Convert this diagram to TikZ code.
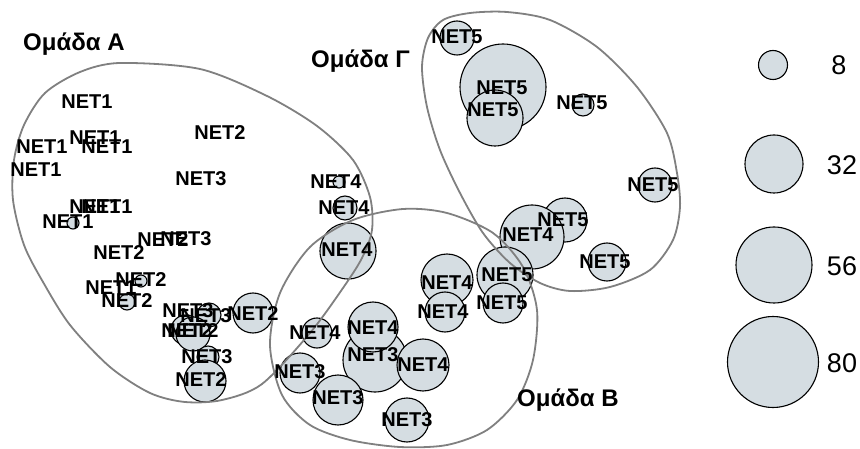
\documentclass[tikz,border=0pt]{standalone}
\usepackage{fontspec}
\setmainfont{Liberation Sans}
\definecolor{bubfill}{RGB}{213,221,226}
\definecolor{groupline}{RGB}{128,128,128}
\begin{document}
\begin{tikzpicture}[x=1pt,y=-1pt,
  bub/.style={circle, draw=black, line width=1.1pt, fill=bubfill, inner sep=0pt, minimum size={2*#1pt}},
  netlbl/.style={font=\fontsize{20}{20}\selectfont\bfseries, inner sep=0pt},
  grplbl/.style={font=\fontsize{24}{24}\selectfont\bfseries, inner sep=0pt, anchor=base west},
  leglbl/.style={font=\fontsize{27}{27}\selectfont, inner sep=0pt},
  group/.style={draw=groupline, line width=1.8pt}]
\fill[white] (0,0) rectangle (860,449);
\useasboundingbox (0,0) rectangle (860,449);

% ---- bubbles, group A ----
\node[bub=6]  (ba1)  at (73,223) {};
\node[bub=6]  (ba2)  at (141,281) {};
\node[bub=8]  (ba3)  at (127,302) {};
\node[bub=12] (ba4)  at (209,315) {};
\node[bub=15] (ba5)  at (186,330) {};
\node[bub=17] (ba6)  at (193,334) {};
\node[bub=20] (ba7)  at (253,313) {};
\node[bub=11] (ba8)  at (208,357) {};
\node[bub=21] (ba9)  at (205,381) {};
\node[bub=6]  (ba10) at (339,182) {};
\node[bub=12] (ba11) at (345,208) {};
\node[bub=28] (ba12) at (348,251) {};
% ---- bubbles, group B ----
\node[bub=26] (bb1)  at (447,280) {};
\node[bub=20] (bb2)  at (445,312) {};
\node[bub=32] (bb5)  at (375,360) {};
\node[bub=25] (bb6)  at (373,327) {};
\node[bub=26] (bb7)  at (423,365) {};
\node[bub=15] (bb8)  at (317,333) {};
\node[bub=20] (bb9)  at (300,373) {};
\node[bub=25] (bb10) at (338,400) {};
\node[bub=22] (bb11) at (407,420) {};
% ---- bubbles, group C ----
\node[bub=17] (bc1) at (457,38) {};
\node[bub=43] (bc2) at (503,87) {};
\node[bub=28] (bc3) at (495,118) {};
\node[bub=11] (bc4) at (583,105) {};
\node[bub=17] (bc5) at (655,185) {};
\node[bub=22] (bc6) at (565,220) {};
\node[bub=32] (bc7) at (532,237) {};
\node[bub=19] (bc8) at (607,262) {};
\node[bub=28] (bb3) at (505,275) {};
\node[bub=20] (bb4) at (503,303) {};

% ---- group outlines ----
\draw[group] plot[smooth cycle] coordinates {
  (120,63) (200,69) (267,96) (317,126) (353,160) (370,197) (372,230) (362,258)
  (343,288) (310,333) (262,384) (222,400) (185,402) (150,393) (110,367) (70,325)
  (43,282) (24,245) (13,200) (14,160) (24,125) (45,93) (80,72)};
\draw[group] plot[smooth cycle] coordinates {
  (270,345) (280,293) (310,247) (353,220) (403,209) (447,213) (493,233) (523,267)
  (537,310) (533,360) (517,400) (487,430) (447,445) (400,447) (350,440) (310,425)
  (282,395)};
\draw[group] plot[smooth cycle] coordinates {
  (443,20) (470,13) (507,12) (550,20) (597,47) (637,87) (667,133) (677,173)
  (680,207) (673,240) (650,270) (610,287) (570,291) (540,283) (510,263) (483,233)
  (460,193) (440,150) (427,107) (422,67) (428,38)};

% ---- labels, group A ----
\node[netlbl] (la1)  at (87,102) {NET1};
\node[netlbl] (la2)  at (42,147) {NET1};
\node[netlbl] (la3)  at (95,138) {NET1};
\node[netlbl] (la4)  at (107,147) {NET1};
\node[netlbl] (la5)  at (36,170) {NET1};
\node[netlbl] (la6)  at (220,133) {NET2};
\node[netlbl] (la7)  at (201,179) {NET3};
\node[netlbl] (la8)  at (95,207) {NET1};
\node[netlbl] (la9)  at (107,207) {NET1};
\node[netlbl] (la10) at (68,222) {NET1};
\node[netlbl] (la11) at (119,253) {NET2};
\node[netlbl] (la12) at (163,240) {NET2};
\node[netlbl] (la13) at (186,239) {NET3};
\node[netlbl] (la14) at (111,288) {NET1};
\node[netlbl] (la15) at (141,280) {NET2};
\node[netlbl] (la16) at (127,301) {NET2};
\node[netlbl] (la17) at (188,311) {NET3};
\node[netlbl] (la18) at (206,316) {NET3};
\node[netlbl] (la19) at (187,331) {NET2};
\node[netlbl] (la20) at (193,331) {NET2};
\node[netlbl] (la21) at (253,314) {NET2};
\node[netlbl] (la22) at (207,357) {NET3};
\node[netlbl] (la23) at (201,380) {NET2};
\node[netlbl] (la24) at (336,182) {NET4};
\node[netlbl] (la25) at (344,208) {NET4};
\node[netlbl] (la26) at (347,250) {NET4};
% ---- labels, group B ----
\node[netlbl] (lb1)  at (447,283) {NET4};
\node[netlbl] (lb2)  at (443,312) {NET4};
\node[netlbl] (lb3)  at (507,275) {NET5};
\node[netlbl] (lb4)  at (502,303) {NET5};
\node[netlbl] (lb5)  at (373,328) {NET4};
\node[netlbl] (lb6)  at (373,355) {NET3};
\node[netlbl] (lb7)  at (423,365) {NET4};
\node[netlbl] (lb8)  at (315,333) {NET4};
\node[netlbl] (lb9)  at (300,372) {NET3};
\node[netlbl] (lb10) at (338,398) {NET3};
\node[netlbl] (lb11) at (407,420) {NET3};
% ---- labels, group C ----
\node[netlbl] (lc1) at (457,37) {NET5};
\node[netlbl] (lc2) at (502,88) {NET5};
\node[netlbl] (lc3) at (493,110) {NET5};
\node[netlbl] (lc4) at (582,103) {NET5};
\node[netlbl] (lc5) at (653,185) {NET5};
\node[netlbl] (lc6) at (563,220) {NET5};
\node[netlbl] (lc7) at (528,235) {NET4};
\node[netlbl] (lc8) at (605,262) {NET5};

% ---- group titles ----
\node[grplbl] (ga) at (23,51) {Ομάδα Α};
\node[grplbl] (gc) at (311,68) {Ομάδα Γ};
\node[grplbl] (gb) at (517,406) {Ομάδα Β};

% ---- size legend ----
\node[bub=14.5] (k1) at (773,65) {};
\node[bub=29]   (k2) at (774,164) {};
\node[bub=38]   (k3) at (774,265) {};
\node[bub=45.5] (k4) at (773,362) {};
\node[leglbl] (kt1) at (839,65) {8};
\node[leglbl] (kt2) at (842,165) {32};
\node[leglbl] (kt3) at (842,266) {56};
\node[leglbl] (kt4) at (842,363) {80};
\end{tikzpicture}
\end{document}
